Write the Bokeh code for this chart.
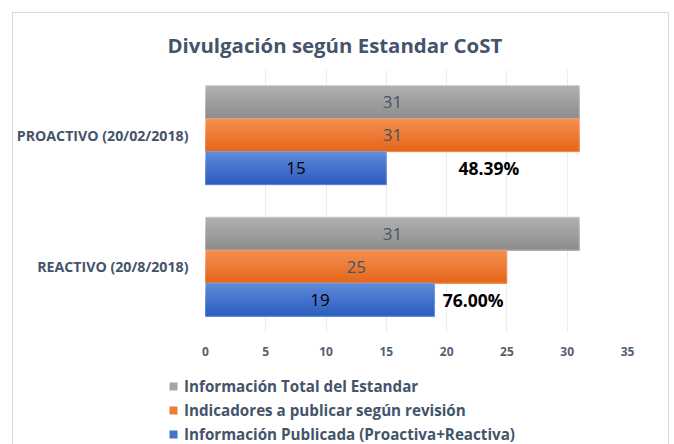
from bokeh.plotting import figure
from bokeh.models import (ColumnDataSource, FactorRange, Range1d, SingleIntervalTicker,
                          Legend, LegendItem, Title)
from bokeh.transform import dodge
from bokeh.core.properties import value
from bokeh.embed import file_html
from bokeh.resources import INLINE

# ---------------- data ----------------
categories = ["PROACTIVO (20/02/2018)", "REACTIVO (20/8/2018)"]
series_names = ["Información Total del Estandar",
                "Indicadores a publicar según revisión",
                "Información Publicada (Proactiva+Reactiva)"]
total_estandar = [31, 31]
indicadores = [31, 25]
publicada = [15, 19]
pct_label_x = [23.5, 22.2]   # anchor of the percentage labels (x units)

# ---------------- style ----------------
FONT = "Open Sans"
SLATE = "#44546A"
grad = {
    "gray": ("#b0b0b0", "#8c8c8c", "#c4c4c4"),
    "orange": ("#f58e50", "#e4661a", "#f6a271"),
    "blue": ("#5d8bdc", "#2c5cbd", "#7d9fe0"),
}
legend_colors = ["#a5a5a5", "#ed7d31", "#4472c4"]
BAR_H = 0.251
N_STRIPS = 12
W = 657
BORDER = "1px solid #d9d9e0"

pct_text = [f"{p / i * 100:.2f}%" for p, i in zip(publicada, indicadores)]

src = ColumnDataSource(dict(
    cat=categories,
    total=total_estandar,
    ind=indicadores,
    pub=publicada,
    total_mid=[v / 2 for v in total_estandar],
    ind_mid=[v / 2 for v in indicadores],
    pub_mid=[v / 2 for v in publicada],
    total_lbl=[str(v) for v in total_estandar],
    ind_lbl=[str(v) for v in indicadores],
    pub_lbl=[str(v) for v in publicada],
    pct_x=pct_label_x,
    pct=pct_text,
))

p = figure(width=W, height=352,
           y_range=FactorRange(factors=list(reversed(categories))),
           x_range=Range1d(0, 35),
           output_backend="svg", toolbar_location=None,
           min_border_left=192, min_border_right=43,
           min_border_top=56, min_border_bottom=33)
p.styles = {"margin-left": "12px", "margin-top": "12px",
            "border-top": BORDER, "border-left": BORDER, "border-right": BORDER}

p.outline_line_color = None
p.background_fill_color = "white"
p.border_fill_color = "white"

p.title = Title(text="Divulgación según Estandar CoST", align="left", offset=-38,
                text_font=FONT, text_font_size="20.4px", text_font_style="bold",
                text_color=SLATE, standoff=22)

def hex2rgb(h):
    h = h.lstrip("#")
    return tuple(int(h[i:i + 2], 16) for i in (0, 2, 4))

def mix(c1, c2, t):
    a, b = hex2rgb(c1), hex2rgb(c2)
    return "#%02x%02x%02x" % tuple(round(a[i] + (b[i] - a[i]) * t) for i in range(3))

series = [("total", BAR_H, "gray"), ("ind", 0.0, "orange"), ("pub", -BAR_H, "blue")]
for col, off, cname in series:
    top_c, bot_c, edge_c = grad[cname]
    bottom = off - BAR_H / 2
    step = BAR_H / N_STRIPS
    for k in range(N_STRIPS):
        h = BAR_H - k * step
        centre = bottom + h / 2
        p.hbar(y=dodge("cat", centre, range=p.y_range), right=col, left=0,
               height=h, source=src,
               fill_color=mix(top_c, bot_c, (k + 0.5) / N_STRIPS), line_color=None)
    p.hbar(y=dodge("cat", off, range=p.y_range), right=col, left=0, height=BAR_H,
           source=src, fill_color=None, line_color=edge_c, line_width=1, line_alpha=0.8)

label_specs = [("total_mid", BAR_H, "total_lbl", SLATE),
               ("ind_mid", 0.0, "ind_lbl", SLATE),
               ("pub_mid", -BAR_H, "pub_lbl", "black")]
for xcol, off, tcol, colr in label_specs:
    p.text(x=xcol, y=dodge("cat", off, range=p.y_range), text=tcol, source=src,
           text_align="center", text_baseline="middle", text_font=value(FONT),
           text_font_size="17px", text_color=colr)
p.text(x="pct_x", y=dodge("cat", -BAR_H, range=p.y_range), text="pct", source=src,
       text_align="center", text_baseline="middle", text_font=value(FONT),
       text_font_size="17.5px", text_font_style="bold", text_color="black")

# axes
p.xaxis.ticker = SingleIntervalTicker(interval=5)
p.xaxis.axis_line_color = None
p.xaxis.major_tick_line_color = None
p.xaxis.minor_tick_line_color = None
p.xaxis.major_label_standoff = 8
p.xaxis.major_label_text_font = FONT
p.xaxis.major_label_text_font_size = "12px"
p.xaxis.major_label_text_font_style = "bold"
p.xaxis.major_label_text_color = "#55606f"

p.yaxis.axis_line_color = None
p.yaxis.major_tick_line_color = None
p.yaxis.minor_tick_line_color = None
p.yaxis.major_label_standoff = 11
p.yaxis.major_label_text_font = FONT
p.yaxis.major_label_text_font_size = "14.2px"
p.yaxis.major_label_text_font_style = "bold"
p.yaxis.major_label_text_color = SLATE

p.xgrid.ticker = SingleIntervalTicker(interval=5)
p.xgrid.grid_line_color = "#ececec"
p.ygrid.grid_line_color = None

# ---------------- legend (own strip below the chart) ----------------
lf = figure(width=W, height=80, x_range=Range1d(0, 1), y_range=Range1d(0, 1),
            x_axis_type=None, y_axis_type=None,
            output_backend="svg", toolbar_location=None,
            min_border=0, min_border_left=0, min_border_right=0,
            min_border_top=0, min_border_bottom=0)
lf.styles = {"margin-left": "12px", "border-left": BORDER, "border-right": BORDER}
lf.outline_line_color = None
lf.grid.grid_line_color = None
lf.background_fill_color = "white"
lf.border_fill_color = "white"
leg_items = []
for name, c in zip(series_names, legend_colors):
    # swatch-only renderer (kept outside the visible range)
    r = lf.hbar(y=[-5], right=[-4], left=-5, height=0.1, fill_color=c, line_color=None)
    leg_items.append(LegendItem(label=name, renderers=[r]))

legend = Legend(items=leg_items, location=(155, -2), orientation="vertical",
                margin=0, padding=0, spacing=0,
                label_height=24, glyph_height=10, glyph_width=10, label_standoff=6,
                label_text_font=FONT, label_text_font_size="15.2px",
                label_text_font_style="bold", label_text_color=SLATE,
                background_fill_alpha=0, border_line_color=None)
lf.add_layout(legend, "center")

open("out.html", "w").write(file_html([p, lf], INLINE))
